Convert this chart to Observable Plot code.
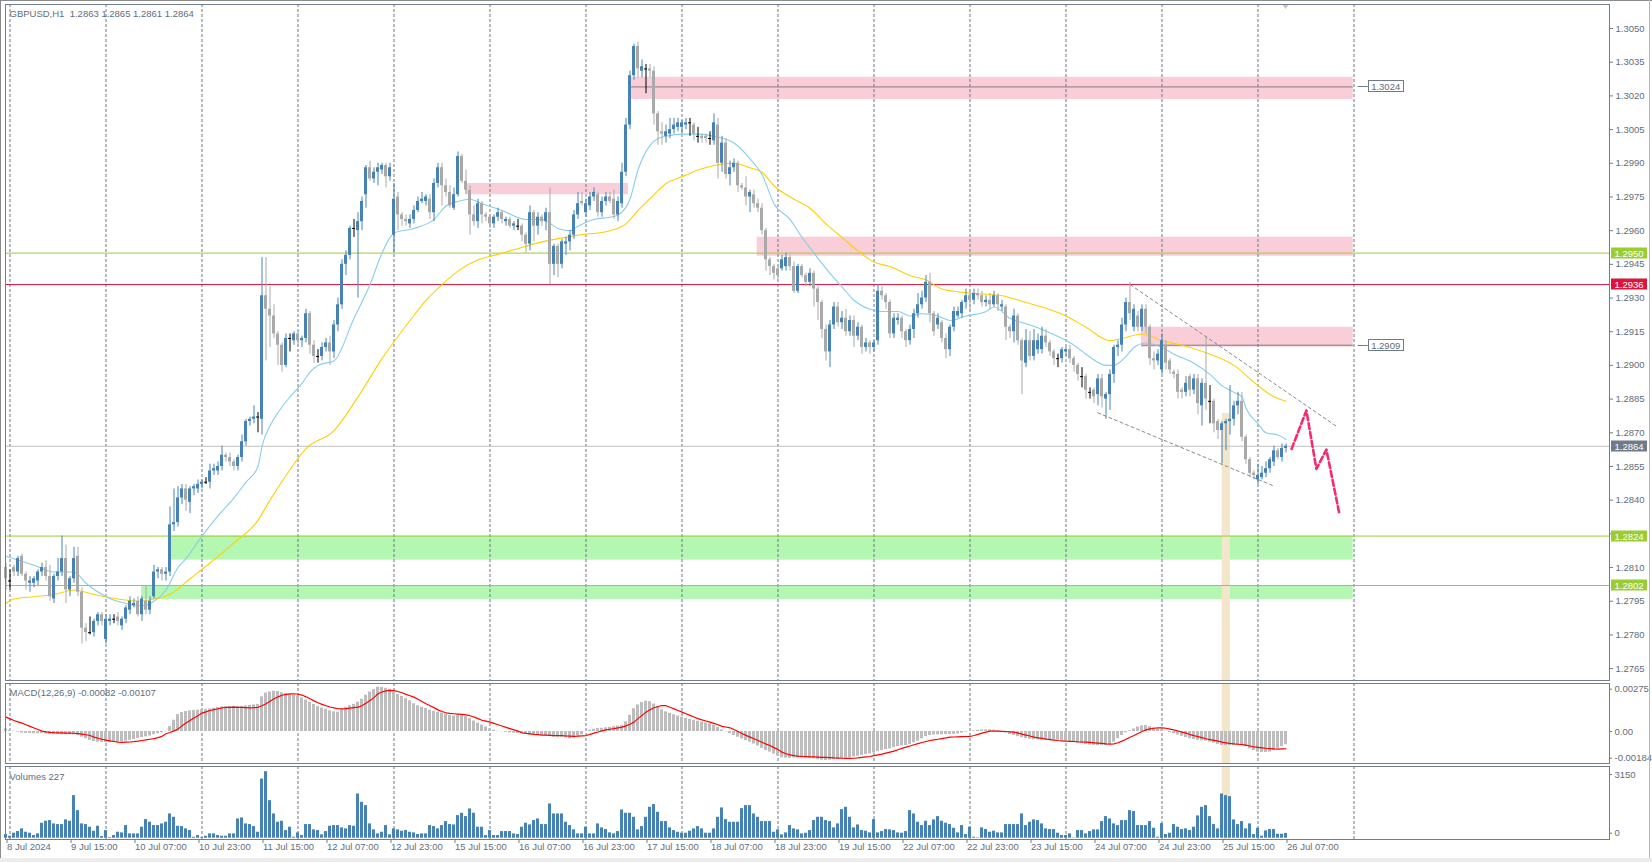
<!DOCTYPE html>
<html><head><meta charset="utf-8">
<script src="https://cdn.jsdelivr.net/npm/d3@7"></script>
<script src="https://cdn.jsdelivr.net/npm/@observablehq/plot@0.6"></script>
<style>
html,body{margin:0;padding:0;background:#fff;}
#wrap{position:relative;width:1652px;height:862px;overflow:hidden;background:#fff;font-family:"Liberation Sans",Arial,sans-serif;}
#wrap svg{position:absolute;left:0;}
.edge{position:absolute;}
</style></head>
<body><div id="wrap"></div>
<script>
// ---------------- DATA ----------------
const symbolLabel = "GBPUSD,H1";
// hourly bars, 8 Jul 23:00 .. 26 Jul 07:00 (bar index 0..320)
const opens = [
1.2810,1.2804,1.2810,1.2808,1.2815,1.2807,1.2803,1.2803,1.2804,1.2808,
1.2810,1.2806,1.2796,1.2806,1.2808,1.2814,1.2800,1.2805,1.2815,1.2799,
1.2783,1.2781,1.2781,1.2786,1.2789,1.2778,1.2786,1.2787,1.2788,1.2784,
1.2787,1.2791,1.2793,1.2795,1.2789,1.2795,1.2791,1.2797,1.2808,1.2809,
1.2807,1.2808,1.2829,1.2830,1.2841,1.2845,1.2839,1.2845,1.2845,1.2847,
1.2848,1.2848,1.2853,1.2853,1.2855,1.2860,1.2859,1.2857,1.2855,1.2859,
1.2866,1.2875,1.2876,1.2877,1.2876,1.2931,1.2925,1.2922,1.2914,1.2909,
1.2900,1.2912,1.2911,1.2914,1.2911,1.2912,1.2923,1.2909,1.2904,1.2904,
1.2908,1.2910,1.2906,1.2918,1.2927,1.2945,1.2949,1.2961,1.2960,1.2964,
1.2976,1.2988,1.2983,1.2986,1.2987,1.2989,1.2984,1.2958,1.2975,1.2967,
1.2965,1.2963,1.2965,1.2969,1.2973,1.2973,1.2974,1.2968,1.2981,1.2988,
1.2980,1.2977,1.2970,1.2976,1.2993,1.2982,1.2978,1.2967,1.2964,1.2972,
1.2967,1.2966,1.2963,1.2966,1.2968,1.2964,1.2965,1.2962,1.2962,1.2962,
1.2958,1.2954,1.2968,1.2962,1.2966,1.2964,1.2968,1.2945,1.2953,1.2945,
1.2954,1.2955,1.2958,1.2967,1.2973,1.2968,1.2971,1.2975,1.2976,1.2968,
1.2973,1.2975,1.2974,1.2967,1.2972,1.2986,1.3007,1.3029,1.3042,1.3031,
1.3032,1.3032,1.3031,1.3012,1.3004,1.3002,1.3003,1.3005,1.3006,1.3006,
1.3007,1.3008,1.3007,1.3002,1.3002,1.3002,1.3001,1.3000,1.3007,1.2990,
1.2999,1.2985,1.2988,1.2990,1.2980,1.2979,1.2975,1.2976,1.2972,1.2970,
1.2960,1.2947,1.2944,1.2943,1.2943,1.2944,1.2948,1.2944,1.2933,1.2944,
1.2940,1.2937,1.2941,1.2934,1.2928,1.2916,1.2906,1.2918,1.2926,1.2919,
1.2921,1.2915,1.2920,1.2913,1.2917,1.2908,1.2910,1.2908,1.2911,1.2933,
1.2931,1.2928,1.2914,1.2920,1.2921,1.2915,1.2911,1.2916,1.2923,1.2927,
1.2930,1.2937,1.2923,1.2918,1.2919,1.2912,1.2907,1.2917,1.2922,1.2923,
1.2928,1.2931,1.2929,1.2932,1.2931,1.2928,1.2929,1.2927,1.2931,1.2926,
1.2926,1.2917,1.2915,1.2922,1.2911,1.2901,1.2911,1.2904,1.2907,1.2907,
1.2913,1.2910,1.2906,1.2903,1.2903,1.2906,1.2907,1.2903,1.2900,1.2895,
1.2895,1.2888,1.2889,1.2887,1.2894,1.2885,1.2887,1.2896,1.2908,1.2909,
1.2918,1.2928,1.2917,1.2922,1.2917,1.2925,1.2917,1.2903,1.2902,1.2898,
1.2909,1.2902,1.2897,1.2896,1.2889,1.2888,1.2895,1.2889,1.2894,1.2882,
1.2892,1.2884,1.2884,1.2875,1.2871,1.2874,1.2875,1.2876,1.2882,1.2884,
1.2868,1.2858,1.2852,1.2849,1.2850,1.2852,1.2854,1.2857,1.2862,1.2859,
1.2863];
const highs = [
1.2812,1.2809,1.2811,1.2815,1.2816,1.2808,1.2806,1.2806,1.2809,1.2812,
1.2813,1.2811,1.2807,1.2814,1.2824,1.2820,1.2806,1.2819,1.2819,1.2801,
1.2785,1.2788,1.2787,1.2790,1.2790,1.2789,1.2789,1.2789,1.2790,1.2788,
1.2793,1.2797,1.2796,1.2797,1.2797,1.2802,1.2797,1.2811,1.2810,1.2810,
1.2810,1.2837,1.2845,1.2846,1.2847,1.2847,1.2846,1.2847,1.2849,1.2849,
1.2850,1.2856,1.2856,1.2857,1.2864,1.2861,1.2861,1.2858,1.2860,1.2869,
1.2876,1.2877,1.2882,1.2879,1.2948,1.2948,1.2935,1.2927,1.2915,1.2910,
1.2914,1.2914,1.2915,1.2915,1.2913,1.2925,1.2924,1.2911,1.2907,1.2910,
1.2912,1.2913,1.2920,1.2930,1.2947,1.2951,1.2962,1.2965,1.2968,1.2975,
1.2989,1.2991,1.2988,1.2990,1.2990,1.2990,1.2990,1.2981,1.2977,1.2968,
1.2967,1.2967,1.2971,1.2975,1.2977,1.2976,1.2976,1.2983,1.2990,1.2990,
1.2983,1.2980,1.2979,1.2995,1.2994,1.2987,1.2980,1.2971,1.2974,1.2973,
1.2968,1.2967,1.2967,1.2970,1.2969,1.2966,1.2966,1.2964,1.2965,1.2963,
1.2959,1.2971,1.2969,1.2968,1.2967,1.2970,1.2979,1.2954,1.2954,1.2956,
1.2957,1.2960,1.2969,1.2977,1.2977,1.2974,1.2977,1.2979,1.2977,1.2975,
1.2977,1.2977,1.2978,1.2975,1.2990,1.3010,1.3031,1.3043,1.3044,1.3036,
1.3034,1.3034,1.3033,1.3013,1.3008,1.3007,1.3010,1.3010,1.3010,1.3009,
1.3010,1.3010,1.3008,1.3006,1.3003,1.3003,1.3004,1.3012,1.3010,1.3002,
1.3001,1.2991,1.2992,1.2991,1.2981,1.2984,1.2978,1.2978,1.2974,1.2972,
1.2961,1.2948,1.2945,1.2944,1.2949,1.2950,1.2949,1.2946,1.2945,1.2945,
1.2941,1.2943,1.2942,1.2935,1.2929,1.2918,1.2920,1.2928,1.2928,1.2924,
1.2925,1.2922,1.2922,1.2919,1.2918,1.2912,1.2911,1.2911,1.2936,1.2935,
1.2932,1.2929,1.2923,1.2923,1.2922,1.2916,1.2918,1.2925,1.2932,1.2933,
1.2940,1.2941,1.2924,1.2923,1.2920,1.2914,1.2918,1.2926,1.2926,1.2929,
1.2934,1.2933,1.2934,1.2934,1.2933,1.2931,1.2932,1.2933,1.2932,1.2929,
1.2927,1.2918,1.2925,1.2923,1.2912,1.2916,1.2915,1.2916,1.2914,1.2917,
1.2916,1.2911,1.2907,1.2905,1.2908,1.2908,1.2909,1.2904,1.2901,1.2899,
1.2896,1.2890,1.2890,1.2896,1.2896,1.2888,1.2898,1.2909,1.2911,1.2921,
1.2930,1.2937,1.2927,1.2924,1.2927,1.2927,1.2918,1.2906,1.2907,1.2914,
1.2911,1.2903,1.2898,1.2898,1.2890,1.2895,1.2896,1.2896,1.2896,1.2894,
1.2913,1.2891,1.2885,1.2876,1.2875,1.2876,1.2891,1.2884,1.2888,1.2888,
1.2869,1.2859,1.2853,1.2856,1.2855,1.2857,1.2859,1.2864,1.2863,1.2865,
1.2865];
const lows = [
1.2800,1.2800,1.2806,1.2806,1.2806,1.2800,1.2799,1.2801,1.2802,1.2806,
1.2804,1.2795,1.2794,1.2804,1.2806,1.2794,1.2797,1.2803,1.2797,1.2776,
1.2777,1.2780,1.2779,1.2784,1.2784,1.2776,1.2784,1.2785,1.2784,1.2782,
1.2785,1.2789,1.2792,1.2788,1.2786,1.2789,1.2789,1.2796,1.2805,1.2804,
1.2804,1.2806,1.2826,1.2828,1.2838,1.2835,1.2834,1.2842,1.2843,1.2845,
1.2847,1.2845,1.2851,1.2851,1.2853,1.2857,1.2855,1.2853,1.2853,1.2857,
1.2864,1.2873,1.2874,1.2870,1.2869,1.2902,1.2908,1.2912,1.2900,1.2897,
1.2899,1.2906,1.2909,1.2909,1.2908,1.2910,1.2905,1.2901,1.2901,1.2902,
1.2906,1.2900,1.2903,1.2915,1.2925,1.2940,1.2947,1.2957,1.2930,1.2960,
1.2970,1.2982,1.2981,1.2980,1.2985,1.2979,1.2982,1.2950,1.2960,1.2962,
1.2962,1.2961,1.2963,1.2968,1.2972,1.2971,1.2965,1.2964,1.2979,1.2971,
1.2975,1.2970,1.2969,1.2975,1.2981,1.2976,1.2958,1.2962,1.2961,1.2963,
1.2964,1.2961,1.2961,1.2964,1.2963,1.2962,1.2961,1.2960,1.2960,1.2955,
1.2950,1.2951,1.2955,1.2958,1.2962,1.2960,1.2936,1.2940,1.2939,1.2943,
1.2949,1.2951,1.2956,1.2965,1.2971,1.2966,1.2969,1.2973,1.2966,1.2966,
1.2971,1.2972,1.2965,1.2964,1.2970,1.2984,1.3005,1.3027,1.3028,1.3028,
1.3021,1.3028,1.3007,1.2998,1.2998,1.2999,1.3001,1.3003,1.3004,1.3003,
1.3005,1.3002,1.3000,1.2999,1.2999,1.2999,1.2998,1.2998,1.2983,1.2986,
1.2983,1.2980,1.2986,1.2977,1.2978,1.2971,1.2968,1.2970,1.2968,1.2958,
1.2942,1.2940,1.2938,1.2938,1.2942,1.2942,1.2942,1.2932,1.2932,1.2939,
1.2935,1.2935,1.2926,1.2920,1.2912,1.2902,1.2899,1.2916,1.2917,1.2916,
1.2913,1.2913,1.2908,1.2911,1.2905,1.2906,1.2905,1.2906,1.2909,1.2929,
1.2925,1.2912,1.2912,1.2918,1.2912,1.2908,1.2909,1.2912,1.2921,1.2925,
1.2928,1.2919,1.2913,1.2916,1.2910,1.2903,1.2904,1.2915,1.2921,1.2921,
1.2925,1.2924,1.2927,1.2929,1.2926,1.2926,1.2925,1.2926,1.2924,1.2924,
1.2911,1.2912,1.2910,1.2909,1.2887,1.2899,1.2902,1.2902,1.2905,1.2905,
1.2908,1.2904,1.2900,1.2899,1.2901,1.2904,1.2901,1.2897,1.2893,1.2890,
1.2885,1.2885,1.2883,1.2882,1.2881,1.2876,1.2880,1.2892,1.2904,1.2906,
1.2915,1.2920,1.2915,1.2915,1.2915,1.2914,1.2900,1.2898,1.2900,1.2896,
1.2898,1.2896,1.2894,1.2885,1.2885,1.2886,1.2886,1.2887,1.2878,1.2873,
1.2880,1.2874,1.2870,1.2867,1.2856,1.2862,1.2869,1.2873,1.2878,1.2866,
1.2856,1.2850,1.2849,1.2847,1.2849,1.2850,1.2852,1.2855,1.2858,1.2857,
1.2861];
const closes = [
1.2805,1.2804,1.2808,1.2814,1.2807,1.2804,1.2804,1.2805,1.2808,1.2810,
1.2806,1.2797,1.2806,1.2808,1.2814,1.2800,1.2805,1.2814,1.2799,1.2783,
1.2781,1.2781,1.2786,1.2789,1.2786,1.2787,1.2787,1.2787,1.2786,1.2787,
1.2792,1.2795,1.2794,1.2789,1.2796,1.2791,1.2795,1.2808,1.2809,1.2807,
1.2808,1.2829,1.2830,1.2841,1.2845,1.2840,1.2845,1.2846,1.2847,1.2848,
1.2848,1.2853,1.2854,1.2855,1.2860,1.2859,1.2857,1.2855,1.2859,1.2866,
1.2875,1.2876,1.2877,1.2877,1.2931,1.2925,1.2922,1.2914,1.2909,1.2900,
1.2912,1.2912,1.2914,1.2911,1.2912,1.2923,1.2909,1.2904,1.2904,1.2908,
1.2910,1.2906,1.2918,1.2927,1.2945,1.2949,1.2961,1.2961,1.2964,1.2973,
1.2988,1.2983,1.2986,1.2988,1.2989,1.2984,1.2988,1.2974,1.2967,1.2965,
1.2964,1.2965,1.2969,1.2973,1.2974,1.2975,1.2968,1.2981,1.2988,1.2980,
1.2977,1.2971,1.2976,1.2993,1.2982,1.2978,1.2967,1.2964,1.2972,1.2967,
1.2966,1.2963,1.2966,1.2968,1.2965,1.2965,1.2962,1.2963,1.2962,1.2958,
1.2954,1.2968,1.2962,1.2966,1.2964,1.2968,1.2945,1.2953,1.2945,1.2955,
1.2955,1.2958,1.2967,1.2972,1.2972,1.2972,1.2975,1.2977,1.2968,1.2973,
1.2975,1.2973,1.2967,1.2973,1.2986,1.3007,1.3029,1.3042,1.3032,1.3033,
1.3032,1.3031,1.3012,1.3004,1.3003,1.3004,1.3005,1.3007,1.3008,1.3008,
1.3008,1.3008,1.3003,1.3002,1.3001,1.3001,1.3001,1.3008,1.2990,1.2999,
1.2985,1.2988,1.2990,1.2980,1.2979,1.2975,1.2977,1.2972,1.2970,1.2960,
1.2947,1.2944,1.2941,1.2940,1.2947,1.2948,1.2944,1.2933,1.2944,1.2940,
1.2937,1.2941,1.2934,1.2928,1.2916,1.2906,1.2918,1.2926,1.2919,1.2921,
1.2915,1.2920,1.2913,1.2917,1.2908,1.2910,1.2908,1.2910,1.2933,1.2931,
1.2928,1.2914,1.2921,1.2921,1.2915,1.2911,1.2916,1.2923,1.2927,1.2930,
1.2937,1.2923,1.2915,1.2921,1.2912,1.2907,1.2917,1.2924,1.2924,1.2928,
1.2931,1.2929,1.2932,1.2931,1.2928,1.2929,1.2927,1.2931,1.2927,1.2927,
1.2917,1.2915,1.2922,1.2911,1.2902,1.2911,1.2904,1.2911,1.2911,1.2913,
1.2910,1.2906,1.2903,1.2903,1.2907,1.2907,1.2903,1.2900,1.2896,1.2895,
1.2889,1.2888,1.2886,1.2894,1.2886,1.2887,1.2896,1.2908,1.2909,1.2918,
1.2928,1.2923,1.2925,1.2917,1.2925,1.2917,1.2903,1.2902,1.2905,1.2911,
1.2901,1.2898,1.2896,1.2888,1.2888,1.2892,1.2889,1.2894,1.2883,1.2892,
1.2885,1.2884,1.2874,1.2871,1.2874,1.2875,1.2876,1.2882,1.2884,1.2868,
1.2858,1.2852,1.2851,1.2851,1.2852,1.2854,1.2858,1.2862,1.2859,1.2863,
1.2864];
const volumes = [
173,94,236,314,440,283,236,126,204,707,
801,832,675,644,644,864,801,2010,1303,675,
644,518,330,565,79,361,30,126,283,251,
597,204,204,204,518,879,754,597,597,675,
754,1146,989,565,550,440,361,47,126,30,
94,204,204,126,94,94,204,204,911,958,
675,644,550,283,2795,3140,1774,1146,754,801,
361,518,47,251,126,644,644,393,361,157,
314,565,597,597,487,440,597,565,2088,1696,
1539,675,393,204,283,597,157,440,393,330,
361,283,251,173,204,204,597,550,440,597,
785,644,628,1068,1178,1021,1382,1178,518,518,
126,361,126,126,314,314,314,204,173,518,
707,628,832,911,644,644,1617,1146,1146,1146,
754,597,393,204,204,518,204,204,675,487,
408,251,204,314,1335,1178,1178,989,393,550,
989,1460,1586,1225,785,785,487,361,283,236,
236,330,440,550,440,236,236,440,989,1429,
879,754,754,754,1397,1539,1539,1146,989,785,
785,785,283,393,157,251,597,440,393,204,
236,361,832,989,989,832,785,487,675,1350,
1460,989,487,628,361,330,251,879,251,314,
408,393,361,251,236,314,1303,1146,754,597,
801,597,864,1021,801,707,644,471,251,597,
173,518,47,20,487,408,283,330,251,251,
644,644,644,644,1146,597,754,864,832,675,
440,408,408,236,126,126,204,16,361,361,
204,314,393,393,785,1021,911,675,597,832,
832,1303,1256,597,597,597,785,471,47,691,
173,236,644,518,408,440,361,518,1052,1460,
1539,1021,644,440,2088,2010,1963,864,644,785,
440,675,173,471,94,345,408,408,188,188,
227];
// MACD(12,26,9) main and signal, in units of 0.00001
const macdMain = [
16,8,2,-4,-10,-12,-13,-14,-14,-14,
-15,-17,-18,-19,-20,-21,-21,-22,-25,-35,
-45,-55,-62,-66,-68,-69,-68,-67,-66,-64,
-60,-55,-50,-44,-38,-33,-28,-20,-14,-8,
-2,30,70,105,118,124,128,130,132,134,
136,140,144,148,152,154,155,155,154,155,
158,162,165,168,215,238,245,250,248,240,
235,228,223,218,208,195,182,168,155,145,
138,128,122,120,135,150,160,168,182,200,
225,245,260,275,273,268,262,244,230,218,
205,190,172,160,150,142,132,125,120,115,
108,100,96,100,98,93,80,65,52,40,
28,16,8,2,-2,-5,-8,-10,-12,-14,
-18,-22,-20,-22,-25,-28,-30,-35,-35,-36,
-40,-45,-40,-30,-20,0,8,14,18,20,
23,26,30,34,37,60,100,141,165,180,
188,185,170,152,134,122,112,104,96,89,
82,76,70,64,58,53,48,40,25,10,
-2,-14,-25,-36,-46,-56,-66,-78,-90,-105,
-118,-128,-140,-152,-163,-165,-166,-165,-164,-163,
-164,-166,-170,-175,-178,-180,-178,-175,-172,-168,
-165,-163,-158,-153,-148,-143,-139,-134,-125,-118,
-112,-108,-100,-94,-90,-87,-80,-70,-60,-45,
-32,-25,-22,-21,-20,-19,-19,-18,-15,-10,
-4,0,4,7,9,10,10,8,4,-2,
-10,-18,-25,-32,-38,-44,-48,-52,-52,-53,
-52,-52,-52,-53,-55,-58,-62,-66,-70,-75,
-81,-84,-86,-88,-87,-87,-80,-66,-45,-25,
-8,5,16,28,35,37,30,22,15,10,
2,-6,-14,-22,-30,-38,-45,-50,-55,-58,
-60,-66,-72,-80,-87,-88,-88,-87,-86,-87,
-95,-108,-118,-128,-130,-130,-128,-118,-106,-94,
-82];
const macdSignal = [
89,78,68,60,52,42,32,22,12,2,
-2,-5,-7,-8,-9,-10,-10,-11,-13,-16,
-20,-25,-35,-42,-48,-54,-58,-62,-66,-67,
-66,-65,-63,-60,-56,-52,-48,-44,-38,-30,
-14,-6,4,16,35,52,68,84,98,114,
122,130,136,141,147,149,150,151,150,149,
148,147,148,150,160,172,188,203,215,225,
230,233,234,231,226,215,203,190,178,168,
160,152,146,141,140,142,145,148,151,160,
175,192,210,234,245,252,255,254,248,240,
230,222,213,200,186,172,160,148,134,124,
116,112,110,108,106,103,98,90,80,70,
64,58,50,42,34,26,18,10,2,-8,
-12,-15,-18,-20,-22,-23,-24,-25,-25,-26,
-28,-29,-30,-29,-27,-25,-18,-10,-3,4,
10,14,18,23,27,35,45,58,80,100,
120,135,147,155,161,160,150,140,130,120,
110,100,90,80,72,65,58,50,42,32,
28,23,12,0,-12,-24,-35,-45,-56,-67,
-78,-87,-100,-112,-128,-138,-145,-150,-153,-155,
-156,-157,-158,-159,-160,-160,-162,-164,-165,-166,
-167,-167,-166,-164,-161,-158,-155,-150,-145,-140,
-134,-128,-122,-113,-105,-97,-90,-82,-75,-68,
-62,-56,-52,-48,-44,-40,-35,-34,-33,-32,
-31,-31,-25,-18,-10,-4,2,3,2,1,
0,-2,-4,-10,-16,-22,-28,-35,-39,-43,
-47,-50,-53,-56,-58,-60,-61,-62,-64,-65,
-66,-68,-70,-72,-74,-77,-78,-77,-70,-60,
-48,-36,-25,-12,0,10,16,20,22,23,
20,15,10,3,-4,-10,-19,-26,-32,-38,
-45,-50,-55,-60,-66,-70,-74,-77,-79,-81,
-85,-90,-95,-98,-101,-104,-106,-108,-109,-108,
-107];
// moving averages (bar index, price)
const fastMaIdx = [0,7,12,17,20,25,30,34,37,40,43,45,49,53,57,60,63,64,66,68,71,74,76,78,82,87,91,94,97,102,107,110,113,116,119,124,130,134,138,141,143,147,151,153,156,158,161,163,165,169,173,177,182,186,189,192,196,199,202,206,209,212,216,219,223,226,229,233,236,240,245,247,251,256,259,264,267,270,275,277,280,282,285,289,292,297,301,304,307,309,310,313,315,318,320];
const fastMaVal = [1.2815,1.2811,1.2808,1.2808,1.2803,1.2797,1.2794,1.2793,1.2795,1.2800,1.2810,1.2814,1.2824,1.2833,1.2841,1.2848,1.2855,1.2864,1.2873,1.2879,1.2886,1.2892,1.2897,1.2900,1.2902,1.2921,1.2936,1.2950,1.2959,1.2961,1.2965,1.2971,1.2973,1.2974,1.2972,1.2969,1.2965,1.2965,1.2961,1.2960,1.2962,1.2965,1.2966,1.2967,1.2974,1.2987,1.2998,1.3001,1.3002,1.3003,1.3003,1.3002,1.2999,1.2992,1.2985,1.2972,1.2965,1.2957,1.2950,1.2941,1.2935,1.2929,1.2925,1.2924,1.2924,1.2922,1.2923,1.2922,1.2920,1.2922,1.2924,1.2926,1.2921,1.2918,1.2916,1.2912,1.2909,1.2905,1.2900,1.2900,1.2904,1.2908,1.2910,1.2908,1.2905,1.2901,1.2896,1.2891,1.2888,1.2886,1.2881,1.2874,1.2870,1.2869,1.2867];
const slowMaIdx = [0,2,7,12,17,22,28,33,37,41,46,51,57,63,66,70,75,82,88,94,101,105,109,113,118,122,126,134,143,151,155,158,162,165,169,173,177,182,186,189,192,197,201,205,209,213,217,221,226,230,234,237,242,249,255,259,265,270,276,279,284,289,294,301,307,313,317,320];
const slowMaVal = [1.2794,1.2796,1.2797,1.2798,1.2800,1.2798,1.2796,1.2795,1.2796,1.2798,1.2805,1.2812,1.2821,1.2831,1.2840,1.2851,1.2863,1.2871,1.2886,1.2903,1.2920,1.2929,1.2936,1.2942,1.2947,1.2949,1.2951,1.2955,1.2958,1.2960,1.2963,1.2969,1.2976,1.2981,1.2984,1.2987,1.2989,1.2990,1.2988,1.2986,1.2980,1.2974,1.2970,1.2963,1.2957,1.2951,1.2946,1.2944,1.2940,1.2938,1.2934,1.2933,1.2932,1.2931,1.2928,1.2926,1.2922,1.2917,1.2911,1.2912,1.2914,1.2911,1.2909,1.2905,1.2900,1.2891,1.2886,1.2884];
// time axis
const timeLabelIdx = [0,16,32,48,64,80,96,112,128,144,160,176,192,208,224,240,256,272,288,304,320];
const timeLabels = ["8 Jul 2024","9 Jul 15:00","10 Jul 07:00","10 Jul 23:00","11 Jul 15:00","12 Jul 07:00","12 Jul 23:00","15 Jul 15:00","16 Jul 07:00","16 Jul 23:00","17 Jul 15:00","18 Jul 07:00","18 Jul 23:00","19 Jul 15:00","22 Jul 07:00","22 Jul 23:00","23 Jul 15:00","24 Jul 07:00","24 Jul 23:00","25 Jul 15:00","26 Jul 07:00"];
const dayGridIdx = [1,25,49,73,97,121,145,169,193,217,241,265,289,313,337];
const priceTicks = [1.3050,1.3035,1.3020,1.3005,1.2990,1.2975,1.2960,1.2945,1.2930,1.2915,1.2900,1.2885,1.2870,1.2855,1.2840,1.2825,1.2810,1.2795,1.2780,1.2765];
// horizontal levels with axis tags
const levelPrices = [1.2950, 1.2936, 1.2864, 1.2824, 1.2802];
const levelKinds  = ["green","red","last","green","green"];
// zones (bar index range, price range)
const zoneStart = [114.9, 156.4, 187.8, 283.9, 41.1, 33.9];
const zoneEnd   = [155.6, 336.8, 336.8, 336.8, 336.8, 336.8];
const zoneLow   = [1.2976, 1.30184, 1.29486, 1.29081, 1.28133, 1.27958];
const zoneHigh  = [1.2981, 1.30283, 1.29571, 1.29170, 1.28240, 1.28020];
const zoneKinds = ["resistance","resistance","resistance","resistance","support","support"];
// labelled price lines inside zones
const tagPrices = [1.3024, 1.2909];
const tagStart  = [156.4, 283.9];
const tagEnd    = [336.8, 336.8];
// channel lines
const channelUpperIdx = [281.1, 332.6];
const channelUpperVal = [1.29359, 1.28729];
const channelLowerIdx = [272.95, 317.1];
const channelLowerVal = [1.28789, 1.28462];
// forecast path
const forecastIdx = [321.4, 325.1, 327.6, 330.1, 333.4];
const forecastVal = [1.28628, 1.28799, 1.28539, 1.28625, 1.28334];
// highlighted bars
const highlightStart = 304.05, highlightEnd = 306.1, highlightTop = 1.28786;
const volumeTicks = [3150, 0];
const macdTicks = [275, 0, -184];

// ---------------- STYLE ----------------
const FONT = "Liberation Sans, Arial, sans-serif";
const TXT = "#5f6d7b";
const FRAME = "#717d8a";
const GRID = "#6d7786";
const BULL = "#4682b4", BEAR = "#a9a9a9", DOJI = "#000000";
const levelColor = {green:"#9acd32", red:"#dc143c", last:"#c0c0c0"};
const levelTag = {green:"#9acd32", red:"#dc143c", last:"#6f7b88"};
const zoneColor = {resistance:"#f9ced8", support:"#b3f7b3"};
const X_DOMAIN = [-0.125, 400.875];
const W = 1652;
const baseStyle = {fontFamily: FONT, fontSize: "9.5px", background: "transparent", overflow: "visible", color: TXT};

const idx = d3.range(opens.length);
const colorOf = i => opens[i] === closes[i] ? DOJI : (closes[i] > opens[i] ? BULL : BEAR);
const bodyIdx = idx.filter(i => opens[i] !== closes[i]);
const dojiIdx = idx.filter(i => opens[i] === closes[i]);
const zones = zoneStart.map((s, k) => ({x1: s, x2: zoneEnd[k], y1: zoneLow[k], y2: zoneHigh[k], kind: zoneKinds[k]}));
const fastMa = fastMaIdx.map((x, k) => ({x, y: fastMaVal[k]}));
const slowMa = slowMaIdx.map((x, k) => ({x, y: slowMaVal[k]}));
const upper = channelUpperIdx.map((x, k) => ({x, y: channelUpperVal[k]}));
const lower = channelLowerIdx.map((x, k) => ({x, y: channelLowerVal[k]}));
const forecast = forecastIdx.map((x, k) => ({x, y: forecastVal[k]}));
const last = opens.length - 1;
const fmt4 = d => d.toFixed(4);
const nb = "\u00a0";

// ---------------- PRICE PANEL ----------------
const pricePlot = Plot.plot({
  width: W, height: 684,
  marginTop: 4, marginBottom: 4, marginLeft: 5, marginRight: 43,
  style: baseStyle,
  x: {domain: X_DOMAIN, axis: null},
  y: {domain: [1.27597, 1.30607], axis: null},
  marks: [
    Plot.rect(zones, {x1: "x1", x2: "x2", y1: "y1", y2: "y2", fill: d => zoneColor[d.kind]}),
    Plot.ruleX(dayGridIdx, {stroke: GRID, strokeDasharray: "3,2", strokeWidth: 1}),
    Plot.rect([0], {x1: () => highlightStart, x2: () => highlightEnd, y1: () => 1.27597, y2: () => highlightTop, fill: "#f4e6cb"}),
    Plot.ruleY(tagPrices, {x1: (d, k) => tagStart[k], x2: (d, k) => tagEnd[k], stroke: "#7f7f7f", strokeWidth: 1}),
    Plot.ruleY(levelPrices, {stroke: (d, k) => levelColor[levelKinds[k]], strokeWidth: 1}),
    Plot.line(slowMa, {x: "x", y: "y", stroke: "#ffd000", strokeWidth: 1.1, curve: "monotone-x"}),
    Plot.line(fastMa, {x: "x", y: "y", stroke: "#87ceeb", strokeWidth: 1.1, curve: "monotone-x"}),
    Plot.ruleX(idx, {x: i => i, y1: i => lows[i], y2: i => highs[i], stroke: colorOf, strokeWidth: 1}),
    Plot.rect(bodyIdx, {x1: i => i - 0.375, x2: i => i + 0.375, y1: i => Math.min(opens[i], closes[i]), y2: i => Math.max(opens[i], closes[i]), fill: colorOf}),
    Plot.ruleY(dojiIdx, {x1: i => i - 0.375, x2: i => i + 0.375, y: i => closes[i], stroke: DOJI, strokeWidth: 1}),
    Plot.line(upper, {x: "x", y: "y", stroke: "#8a8a8a", strokeDasharray: "3,3", strokeWidth: 1}),
    Plot.line(lower, {x: "x", y: "y", stroke: "#8a8a8a", strokeDasharray: "3,3", strokeWidth: 1}),
    Plot.line(forecast, {x: "x", y: "y", stroke: "#f42b6c", strokeWidth: 2.6, strokeDasharray: "6,3"}),
    Plot.frame({stroke: FRAME}),
    Plot.axisY({anchor: "right", ticks: priceTicks, tickFormat: fmt4, tickSize: 3, tickPadding: 3, stroke: FRAME, fill: TXT, label: null}),
    Plot.text([symbolLabel + nb + nb + [opens[last], highs[last], lows[last], closes[last]].map(fmt4).join(" ")],
      {frameAnchor: "top-left", dx: 4, dy: 9, textAnchor: "start", lineAnchor: "middle", fill: TXT})
  ]
});
pricePlot.style.top = "0px";

// ---------------- MACD PANEL ----------------
const macdFmt = new Map([[275, "0.00275"], [0, "0.00"], [-184, "-0.00184"]]);
const macdPlot = Plot.plot({
  width: W, height: 86,
  marginTop: 3, marginBottom: 3, marginLeft: 5, marginRight: 43,
  style: baseStyle,
  x: {domain: X_DOMAIN, axis: null},
  y: {domain: [-198.5, 297.7], axis: null},
  marks: [
    Plot.ruleX(dayGridIdx, {stroke: GRID, strokeDasharray: "3,2", strokeWidth: 1}),
    Plot.rect([0], {x1: () => highlightStart, x2: () => highlightEnd, y1: () => -198.5, y2: () => 297.7, fill: "#f4e6cb"}),
    Plot.rect(idx, {x1: i => i - 0.375, x2: i => i + 0.375, y1: 0, y2: i => macdMain[i], fill: "#bdbdbd"}),
    Plot.line(idx, {x: i => i, y: i => macdSignal[i], stroke: "#ff0000", strokeWidth: 1.2}),
    Plot.frame({stroke: FRAME}),
    Plot.axisY({anchor: "right", ticks: [macdTicks[0]], tickFormat: d => macdFmt.get(d), tickSize: 2, tickPadding: 3, dy: 2, stroke: FRAME, fill: TXT, label: null}),
    Plot.axisY({anchor: "right", ticks: [macdTicks[1]], tickFormat: d => macdFmt.get(d), tickSize: 2, tickPadding: 3, stroke: FRAME, fill: TXT, label: null}),
    Plot.axisY({anchor: "right", ticks: [macdTicks[2]], tickFormat: d => macdFmt.get(d), tickSize: 2, tickPadding: 3, dy: -3, stroke: FRAME, fill: TXT, label: null}),
    Plot.text([`MACD(12,26,9) ${(macdMain[last] / 1e5).toFixed(5)} ${(macdSignal[last] / 1e5).toFixed(5)}`],
      {frameAnchor: "top-left", dx: 4, dy: 9, textAnchor: "start", lineAnchor: "middle", fill: TXT})
  ]
});
macdPlot.style.top = "680px";

// ---------------- VOLUME PANEL ----------------
const labelMap = new Map(timeLabelIdx.map((d, k) => [d, timeLabels[k]]));
const volPlot = Plot.plot({
  width: W, height: 99,
  marginTop: 3, marginBottom: 23, marginLeft: 5, marginRight: 43,
  style: baseStyle,
  x: {domain: X_DOMAIN, axis: null},
  y: {domain: [-61, 3386], axis: null},
  marks: [
    Plot.ruleX(dayGridIdx, {stroke: GRID, strokeDasharray: "3,2", strokeWidth: 1}),
    Plot.rect([0], {x1: () => highlightStart, x2: () => highlightEnd, y1: () => -61, y2: () => 3386, fill: "#f4e6cb"}),
    Plot.rect(idx, {x1: i => i - 0.375, x2: i => i + 0.375, y1: 0, y2: i => volumes[i], fill: BULL}),
    Plot.frame({stroke: FRAME}),
    Plot.axisY({anchor: "right", ticks: [volumeTicks[0]], tickSize: 2, tickPadding: 3, dy: 3, stroke: FRAME, fill: TXT, label: null, tickFormat: d => String(d)}),
    Plot.axisY({anchor: "right", ticks: [volumeTicks[1]], tickSize: 2, tickPadding: 3, dy: -5, stroke: FRAME, fill: TXT, label: null, tickFormat: d => String(d)}),
    Plot.axisX({anchor: "bottom", ticks: timeLabelIdx, tickFormat: d => labelMap.get(d), tickSize: 4, tickPadding: 0, textAnchor: "start", dx: 1, stroke: FRAME, fill: TXT, label: null}),
    Plot.text([`Volumes ${volumes[last]}`], {frameAnchor: "top-left", dx: 4, dy: 10, textAnchor: "start", lineAnchor: "middle", fill: TXT})
  ]
});
volPlot.style.top = "763px";

const wrap = document.getElementById("wrap");
wrap.appendChild(pricePlot);
wrap.appendChild(macdPlot);
wrap.appendChild(volPlot);

// ---------------- overlays: axis tags & zone tags ----------------
const ys = pricePlot.scale("y"), xs = pricePlot.scale("x");
const sp = d3.select(pricePlot);
levelPrices.forEach((p, k) => {
  const y = Math.round(ys.apply(p)) + 0.5;
  const g = sp.append("g");
  g.append("rect").attr("x", 1611).attr("y", y - 6).attr("width", 36).attr("height", 11).attr("fill", levelTag[levelKinds[k]]);
  g.append("text").attr("x", 1629).attr("y", y).attr("dy", "0.35em").attr("text-anchor", "middle")
    .attr("fill", "#ffffff").attr("font-family", FONT).attr("font-size", 9.5).text(fmt4(p));
});
tagPrices.forEach((p, k) => {
  const y = Math.round(ys.apply(p)) + 0.5;
  const xe = xs.apply(tagEnd[k]);
  const g = sp.append("g");
  g.append("line").attr("x1", xe + 5).attr("x2", xe + 15).attr("y1", y).attr("y2", y).attr("stroke", "#6f7b88");
  g.append("rect").attr("x", Math.round(xe + 15) + 0.5).attr("y", y - 6).attr("width", 35).attr("height", 11)
    .attr("fill", "#ffffff").attr("stroke", "#6f7b88");
  g.append("text").attr("x", xe + 33).attr("y", y).attr("dy", "0.35em").attr("text-anchor", "middle")
    .attr("fill", "#5f6d7b").attr("font-family", FONT).attr("font-size", 9.5).text(fmt4(p));
});
// chart-shift marker
const xm = xs.apply(last);
sp.append("path").attr("d", `M${xm - 3},5 L${xm + 3},5 L${xm},9 Z`).attr("fill", "#c8c8c8");

// window edges
[["left:0;top:0;width:1px;height:862px;background:#8c8c8c"],
 ["left:0;top:0;width:1652px;height:1px;background:#8c8c8c"],
 ["left:1649px;top:0;width:1px;height:862px;background:#b8b8b8"],
 ["left:0;top:858px;width:1652px;height:4px;background:#ececec"]].forEach(([css]) => {
  const d = document.createElement("div"); d.className = "edge"; d.style.cssText = css; wrap.appendChild(d);
});
</script>
</body></html>
